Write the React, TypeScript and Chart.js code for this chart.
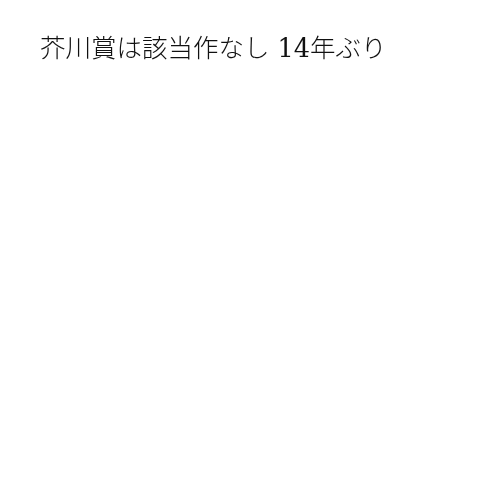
import React, { useEffect, useRef } from "react";
import { Chart, registerables } from "chart.js";

Chart.register(...registerables);

// The chart holds no data, only its title
const titleText = "芥川賞は該当作なし 14年ぶり";
const categories: string[] = [];
const values: number[] = [];

export default function App() {
  const canvasRef = useRef<HTMLCanvasElement | null>(null);
  const chartRef = useRef<Chart | null>(null);

  useEffect(() => {
    if (!canvasRef.current) return;
    const ctx = canvasRef.current.getContext("2d");
    if (!ctx) return;

    if (chartRef.current) {
      chartRef.current.destroy();
    }

    chartRef.current = new Chart(ctx, {
      type: "bar",
      data: {
        labels: categories,
        datasets: [{ label: "", data: values, backgroundColor: "#333" }],
      },
      options: {
        animation: false,
        responsive: true,
        maintainAspectRatio: false,
        layout: { padding: { left: 32, top: 27 } },
        plugins: {
          legend: { display: false },
          tooltip: { enabled: false },
          title: {
            display: true,
            text: titleText,
            align: "start",
            color: "#111",
            font: {
              family: "'DejaVu Serif', 'Noto Sans CJK JP', serif",
              size: 25.5,
              weight: "300",
            },
            padding: { top: 0, bottom: 10 },
          },
        },
        scales: {
          x: { display: false },
          y: { display: false },
        },
      },
    });

    return () => {
      if (chartRef.current) {
        chartRef.current.destroy();
        chartRef.current = null;
      }
    };
  }, []);

  return (
    <div style={{ width: 484, height: 484 }}>
      <canvas ref={canvasRef} />
    </div>
  );
}
